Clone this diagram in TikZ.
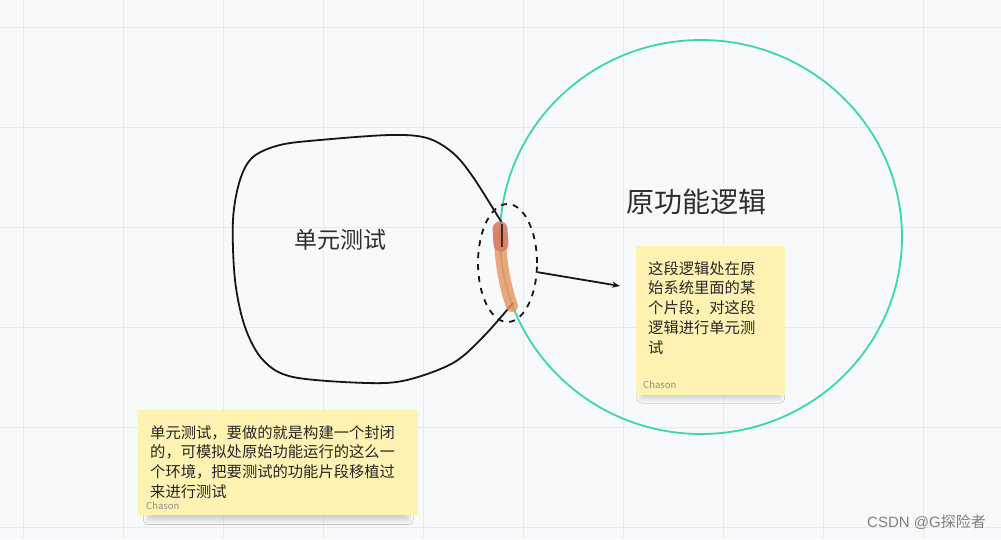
\documentclass[tikz,border=0pt]{standalone}
\usepackage{fontspec}
\newfontfamily\cjk{Noto Sans CJK SC}
\newfontfamily\wmfont{Liberation Sans}
\usetikzlibrary{arrows.meta,shapes.geometric,shadows.blur}
\definecolor{bgpaper}{HTML}{F7F9FB}
\definecolor{gridline}{HTML}{E8EBEE}
\definecolor{circteal}{HTML}{3DD6B0}
\definecolor{inkline}{HTML}{1B1416}
\definecolor{notey}{HTML}{FFF2B3}
\definecolor{segred}{HTML}{D97B66}
\definecolor{segorange}{HTML}{E8935C}
\definecolor{labelgray}{HTML}{2E2E2E}

\begin{document}
\begin{tikzpicture}[x=1pt,y=-1pt,>={Stealth[length=8pt,width=6pt]},font=\cjk,
  note/.style={fill=notey,draw=none,anchor=north west,inner sep=0pt,
    blur shadow={shadow xshift=0pt,shadow yshift=-9pt,shadow scale=0.93,shadow blur steps=14,shadow blur radius=5pt,shadow opacity=18}},
  notetext/.style={anchor=north west,inner sep=0pt,align=left,text=black!85,
    font=\cjk\fontsize{15.3}{19.8}\selectfont},
  sign/.style={anchor=west,inner sep=0pt,text=black!45,font=\cjk\fontsize{9.5}{9.5}\selectfont},
  bigtext/.style={text=labelgray,inner sep=0pt}]
  \useasboundingbox (0,0) rectangle (1001,539);
  \fill[bgpaper] (0,0) rectangle (1001,539);
  % --- grid ---
  \foreach \gx in {23,123,...,923} \draw[gridline,line width=1pt] (\gx,0) -- (\gx,539);
  \foreach \gy in {27,127,...,527} \draw[gridline,line width=1pt] (0,\gy) -- (1001,\gy);
  % --- original logic circle ---
  \draw[circteal,line width=1.8pt] (701,237) ellipse [x radius=201,y radius=197];
  \node[bigtext,font=\cjk\fontsize{28}{28}\selectfont] (orig) at (696,202) {原功能逻辑};
  % --- unit test blob ---
  \draw[inkline,line width=1.8pt] plot[smooth,tension=0.55] coordinates {
    (502,223) (473,177) (453,153) (427,138) (390,135) (320,140) (280,145) (253,157)
    (240,180) (233,220) (235,280) (245,327) (263,360) (293,377) (367,383) (407,380)
    (453,363) (483,337) (513,303)};
  \node[bigtext,font=\cjk\fontsize{23}{23}\selectfont] (utest) at (340,240) {单元测试};
  % --- cut segment ---
  \draw[segorange,line width=12pt,line cap=round,opacity=0.8] (500,236) .. controls (500,262) and (506,290) .. (512,306);
  \draw[segred,line width=15pt,line cap=round,opacity=0.9] (500,229) -- (501,244);
  \draw[black!65!brown,line width=2pt] (502,224) -- (502,247);
  \node[ellipse,draw=inkline,dashed,dash pattern=on 6pt off 6pt,line width=1.8pt,
    minimum width=59pt,minimum height=118pt,inner sep=0pt] (seg) at (507.5,263) {};
  \coordinate (tip) at (620,286);
  \draw[->,inkline,line width=1.8pt] (seg.-17) -- (tip);
  % --- sticky notes ---
  \node[note,minimum width=149pt,minimum height=149pt] (noteA) at (636,246) {};
  \node[notetext] (textA) at (648,261) {这段逻辑处在原\\始系统里面的某\\个片段，对这段\\逻辑进行单元测\\试};
  \node[sign] (signA) at (643,385) {Chason};
  \node[note,minimum width=280pt,minimum height=105pt] (noteB) at (138,410) {};
  \node[notetext] (textB) at (150,425) {单元测试，要做的就是构建一个封闭\\的，可模拟处原始功能运行的这么一\\个环境，把要测试的功能片段移植过\\来进行测试};
  \node[sign] (signB) at (146,506) {Chason};
  % --- watermark ---
  \node[anchor=east,inner sep=0pt,text=black!50,font=\cjk\fontsize{15}{15}\selectfont] (mark) at (986,522) {{\wmfont CSDN @G}探险者};
\end{tikzpicture}
\end{document}
